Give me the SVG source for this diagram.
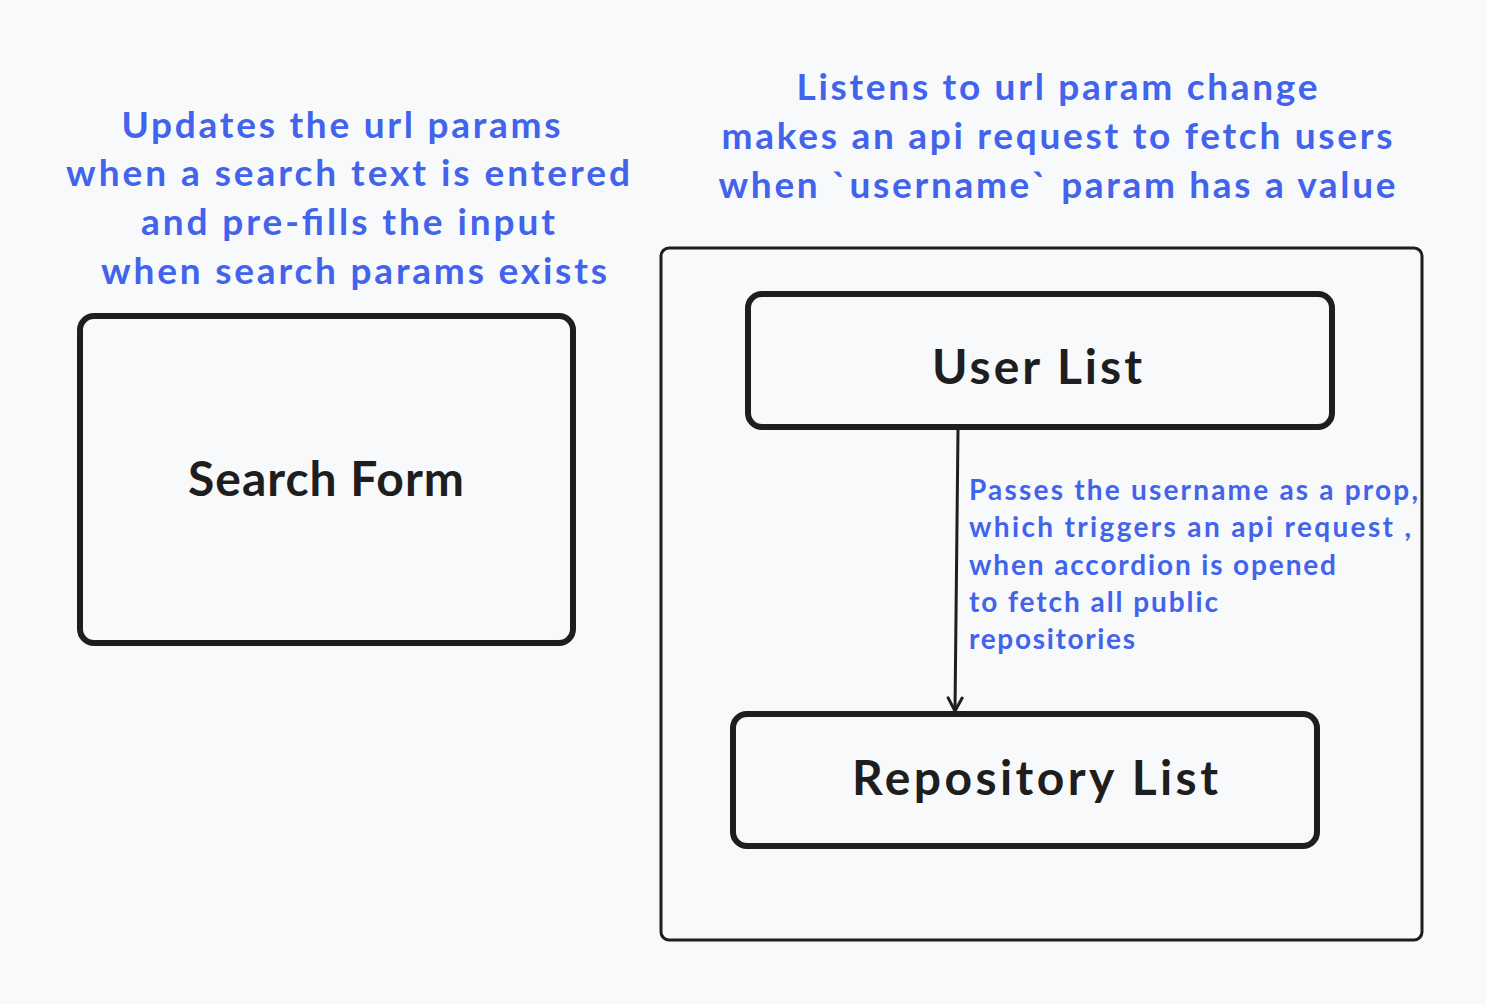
<svg xmlns="http://www.w3.org/2000/svg" width="1486" height="1004" viewBox="0 0 1486 1004">
<style>
.box{fill:none;stroke:#1e1e1e;stroke-linejoin:round}
.thick{stroke-width:6}
.thin{stroke-width:3}
.title{font-family:Lato,"Noto Sans",sans-serif;font-weight:700;fill:#1e1e1e;font-size:48px}
.note{font-family:Lato,"Noto Sans",sans-serif;font-weight:700;fill:#4263eb}
.big{font-size:37px}
.small{font-size:28px}
.conn{stroke:#1e1e1e;stroke-width:3;fill:none;stroke-linecap:round;stroke-linejoin:round}
</style>
<defs>
<marker id="arrow" viewBox="0 0 20 20" refX="18" refY="10" markerWidth="20" markerHeight="20" markerUnits="userSpaceOnUse" orient="auto">
<path d="M5,3 L18,10 L5,17" fill="none" stroke="#1e1e1e" stroke-width="3" stroke-linecap="round" stroke-linejoin="round"/>
</marker>
</defs>
<rect width="1486" height="1004" fill="#f8f9fb"/>

<g id="note-left">
<text class="note big" text-anchor="middle" x="341" y="138" textLength="439" lengthAdjust="spacing">Updates the url params</text>
<text class="note big" text-anchor="middle" x="348" y="186" textLength="564" lengthAdjust="spacing">when a search text is entered</text>
<text class="note big" text-anchor="middle" x="348" y="235" textLength="414" lengthAdjust="spacing">and pre-fills the input</text>
<text class="note big" text-anchor="middle" x="354" y="284" textLength="506" lengthAdjust="spacing">when search params exists</text>
</g>

<g id="note-right">
<text class="note big" text-anchor="middle" x="1057" y="100" textLength="521" lengthAdjust="spacing">Listens to url param change</text>
<text class="note big" text-anchor="middle" x="1057" y="149" textLength="671" lengthAdjust="spacing">makes an api request to fetch users</text>
<text class="note big" text-anchor="middle" x="1057" y="198" textLength="677" lengthAdjust="spacing">when `username` param has a value</text>
</g>

<g id="search-form">
<rect class="box thick" x="80" y="316" width="493" height="327" rx="14"/>
<text class="title" text-anchor="middle" x="326" y="496" textLength="276" lengthAdjust="spacing">Search Form</text>
</g>

<g id="container">
<rect class="box thin" x="661" y="248" width="761" height="692" rx="8"/>
</g>

<g id="user-list">
<rect class="box thick" x="748" y="294" width="584" height="133" rx="14"/>
<text class="title" text-anchor="middle" x="1037" y="384" textLength="210" lengthAdjust="spacing">User List</text>
</g>

<g id="repository-list">
<rect class="box thick" x="733" y="714" width="584" height="132" rx="14"/>
<text class="title" text-anchor="middle" x="1035" y="795" textLength="366" lengthAdjust="spacing">Repository List</text>
</g>

<g id="connectors">
<path class="conn" d="M958,430 L955,711" marker-end="url(#arrow)"/>
<g id="connector-label">
<text class="note small" x="969" y="500" textLength="449" lengthAdjust="spacing">Passes the username as a prop,</text>
<text class="note small" x="969" y="537" textLength="442" lengthAdjust="spacing">which triggers an api request ,</text>
<text class="note small" x="969" y="575" textLength="367" lengthAdjust="spacing">when accordion is opened</text>
<text class="note small" x="969" y="612" textLength="249" lengthAdjust="spacing">to fetch all public</text>
<text class="note small" x="969" y="649" textLength="166" lengthAdjust="spacing">repositories</text>
</g>
</g>
</svg>
